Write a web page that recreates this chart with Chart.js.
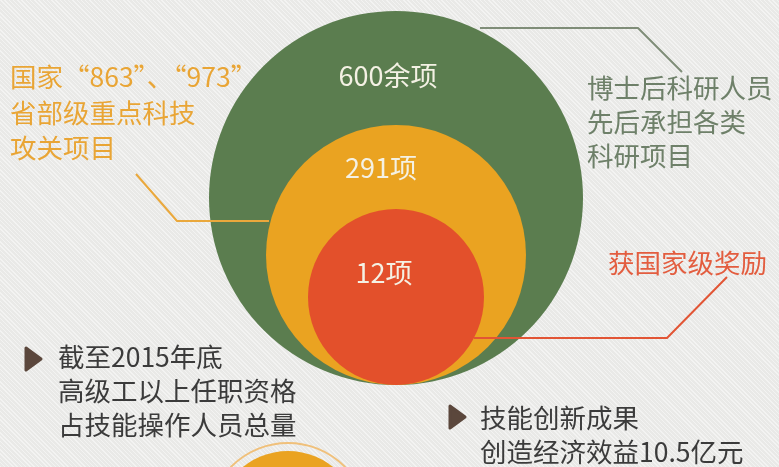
<!DOCTYPE html>
<html>
<head>
<meta charset="utf-8">
<script src="https://cdn.jsdelivr.net/npm/chart.js@4.4.0/dist/chart.umd.min.js"></script>
<style>
  html, body { margin: 0; padding: 0; }
  body {
    width: 779px; height: 467px; overflow: hidden; position: relative;
    background-color: #e9e9e7;
    background-image: repeating-linear-gradient(45deg, rgba(255,255,255,0.45) 0 1px, rgba(255,255,255,0) 1px 3px);
    font-family: "Noto Sans CJK SC", sans-serif;
  }
  #chartBox { position: absolute; left: 0; top: 0; width: 779px; height: 467px; }
  .note { position: absolute; font-size: 26.5px; line-height: 34px; white-space: nowrap; }
  .orange { color: #e9a535; left: 10px; top: 58px; line-height: 35.5px; }
  .green { color: #6e8069; left: 587px; top: 70px; }
  .red { color: #e35d3f; left: 608px; top: 245px; }
  .dark { color: #3b3b3b; }
</style>
</head>
<body>
<div id="chartBox"><canvas id="circleChart" width="779" height="467"></canvas></div>

<div class="note orange" lang="zh-CN">国家“863”、“973”<br>省部级重点科技<br>攻关项目</div>
<div class="note green">博士后科研人员<br>先后承担各类<br>科研项目</div>
<div class="note red">获国家级奖励</div>
<div class="note dark" style="left:58px; top:339px;">截至2015年底<br>高级工以上任职资格<br>占技能操作人员总量</div>
<div class="note dark" style="left:480px; top:400px;">技能创新成果<br>创造经济效益10.5亿元</div>

<script>
// 数据
const categories = ['博士后科研人员先后承担各类科研项目', '国家“863”、“973”省部级重点科技攻关项目', '获国家级奖励'];
const values = [600, 291, 12];
const valueLabels = ['600余项', '291项', '12项'];

// 圆的大小和位置（按图量取）
const ringRadius = [187, 130, 88];
const ringColors = ['#5b7d4f', '#eaa321', '#e3502b'];
const centerX = 396;
const bottomY = 385;

// 圆内文字偏移
const labelShift = [[-8, -122], [-15, -87], [-12, -24]];

const circleData = values.map(function(v, i) {
    return { x: centerX, y: bottomY - ringRadius[i], r: ringRadius[i], v: v };
});

// 下方露出一半的圆
const teaserData = [
    { x: 288, y: 523, r: 80 },
    { x: 288, y: 523, r: 72 }
];

const overlayPlugin = {
    id: 'overlay',
    afterDatasetsDraw: function(chart) {
        const ctx = chart.ctx;
        const meta = chart.getDatasetMeta(0);
        ctx.save();

        // 引线
        ctx.lineWidth = 2;
        ctx.lineJoin = 'round';
        ctx.strokeStyle = '#7f8d78';
        ctx.beginPath();
        ctx.moveTo(480, 28); ctx.lineTo(638, 28); ctx.lineTo(682, 72);
        ctx.stroke();

        ctx.strokeStyle = '#eaa83c';
        ctx.beginPath();
        ctx.moveTo(136, 174); ctx.lineTo(177, 221); ctx.lineTo(269, 221);
        ctx.stroke();

        ctx.strokeStyle = '#e25535';
        ctx.beginPath();
        ctx.moveTo(474, 338); ctx.lineTo(667, 338); ctx.lineTo(727, 277);
        ctx.stroke();

        // 圆内数值
        ctx.fillStyle = '#f4f1e4';
        ctx.font = '27px "Noto Sans CJK SC"';
        ctx.textAlign = 'center';
        ctx.textBaseline = 'middle';
        meta.data.forEach(function(pt, i) {
            ctx.fillText(valueLabels[i], pt.x + labelShift[i][0], pt.y + labelShift[i][1]);
        });

        // 小三角
        ctx.fillStyle = '#5b473c';
        ctx.strokeStyle = '#5b473c';
        ctx.lineWidth = 3;
        [[26, 348], [450, 406]].forEach(function(p) {
            ctx.beginPath();
            ctx.moveTo(p[0], p[1]);
            ctx.lineTo(p[0] + 15, p[1] + 11);
            ctx.lineTo(p[0], p[1] + 22);
            ctx.closePath();
            ctx.fill();
            ctx.stroke();
        });
        ctx.restore();
    }
};

const config = {
    type: 'bubble',
    data: {
        labels: categories,
        datasets: [{
            label: '科研项目',
            data: circleData,
            backgroundColor: ringColors,
            borderWidth: 0,
            hoverRadius: 0,
            clip: false,
            order: 1
        }, {
            label: 'next',
            data: teaserData,
            backgroundColor: ['rgba(0,0,0,0)', '#eaa321'],
            borderColor: ['#f0c07a', 'rgba(0,0,0,0)'],
            borderWidth: [2, 0],
            hoverRadius: 0,
            clip: false,
            order: 2
        }]
    },
    options: {
        responsive: false,
        animation: false,
        events: [],
        layout: { padding: 0, autoPadding: false },
        scales: {
            x: { type: 'linear', min: 0, max: 779, display: false },
            y: { type: 'linear', min: 0, max: 467, reverse: true, display: false }
        },
        plugins: {
            legend: { display: false },
            tooltip: { enabled: false }
        }
    },
    plugins: [overlayPlugin]
};

const myChart = new Chart(document.getElementById('circleChart'), config);
</script>
</body>
</html>
